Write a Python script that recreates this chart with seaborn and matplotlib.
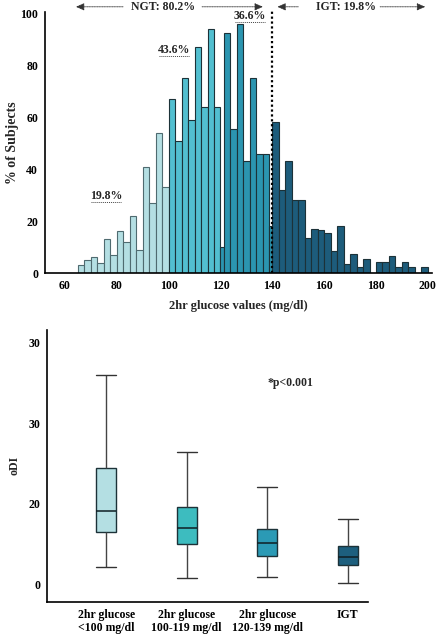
import numpy as np
import pandas as pd
import matplotlib
matplotlib.use("Agg")
import matplotlib.pyplot as plt
import seaborn as sns

# ---------------- data: histogram (% of subjects per 2hr glucose bin) -------------
g1_edges = [65, 67.5, 70, 72.5, 75, 77.5, 80, 82.5, 85, 87.5, 90, 92.5, 95, 97.5, 100]
g1_heights = [3, 5, 6, 4, 13, 7, 16, 12, 22, 9, 41, 27, 54, 33]

g2_edges = [100, 102.5, 105, 107.5, 110, 112.5, 115, 117.5, 120]
g2_heights = [67, 51, 75, 59, 87, 64, 94, 64]

g3_edges = [120, 121.25, 123.75, 126.25, 128.75, 131.25, 133.75, 136.25, 138.75, 140]
g3_heights = [10, 92.5, 55.5, 96, 43, 75, 46, 46, 18]

igt_edges = [140, 142.5, 145, 147.5, 150, 152.5, 155, 157.5, 160, 162.5, 165, 167.5,
             170, 172.5, 175, 177.5, 180, 182.5, 185, 187.5, 190, 192.5, 195, 197.5, 200]
igt_heights = [58, 32, 43, 28, 28, 13.5, 17, 16.5, 15.5, 8.4, 18, 3.4,
               7.3, 2.4, 5.3, 0, 4.3, 4.3, 6.5, 2.4, 4.3, 2.4, 0, 2.4]

hist_colors = ["#b4dfe3", "#52bfd0", "#2b95b0", "#1d5c7b"]

x_ticks = [60, 80, 100, 120, 140, 160, 180, 200]
y_ticks = [0, 20, 40, 60, 80, 100]

# ---------------- data: box plot (oDI) -------------
box_groups = ["2hr glucose\n<100 mg/dl", "2hr glucose\n100-119 mg/dl",
              "2hr glucose\n120-139 mg/dl", "IGT"]
box_min = [2.2, 0.75, 0.95, 0.2]
box_q1 = [6.5, 5.0, 3.5, 2.4]
box_med = [9.1, 7.0, 5.1, 3.4]
box_q3 = [14.4, 9.6, 6.9, 4.7]
box_max = [26.0, 16.4, 12.05, 8.1]
box_colors = ["#b4dfe3", "#3dbcbf", "#2b9ab5", "#1d5f7e"]
box_ytick_pos = [0, 10, 20, 30]
box_ytick_labels = ["0", "20", "30", "30"]

# ---------------- style -------------
sns.set_style("white")
plt.rcParams["font.family"] = ["Liberation Serif", "DejaVu Serif"]
plt.rcParams["font.weight"] = "bold"

fig = plt.figure(figsize=(4.39, 6.34), dpi=100)
ax1 = fig.add_axes([45 / 439, 1 - 273 / 634, 387 / 439, 261 / 634])
ax2 = fig.add_axes([47 / 439, 1 - 601.7 / 634, 321 / 439, 271.7 / 634])

edge_col = "#1c3238"
groups = [(g1_edges, g1_heights, "#4f6b70"), (g2_edges, g2_heights, edge_col),
          (g3_edges, g3_heights, edge_col), (igt_edges, igt_heights, edge_col)]
for (edges, heights, ec), col in zip(groups, hist_colors):
    e = [float(v) for v in edges]
    centers = [(a + b) / 2 for a, b in zip(e[:-1], e[1:])]
    hdf = pd.DataFrame({"glucose": centers, "pct": [float(h) for h in heights]})
    sns.histplot(data=hdf, x="glucose", weights="pct", bins=e, ax=ax1, color=col,
                 edgecolor=ec, linewidth=0.8, alpha=1, stat="count")

ax1.set_xlim(52.3, 201.6)
ax1.set_ylim(0, 100.5)
ax1.set_xticks(x_ticks)
ax1.set_yticks(y_ticks)
for s in ["top", "right"]:
    ax1.spines[s].set_visible(False)
for s in ["left", "bottom"]:
    ax1.spines[s].set_color("black")
    ax1.spines[s].set_linewidth(1.2)
ax1.tick_params(axis="both", direction="out", length=3, width=1, labelsize=8.5, pad=2,
                colors="black")
for lab in ax1.get_xticklabels() + ax1.get_yticklabels():
    lab.set_fontweight("bold")
ax1.set_xlabel("2hr glucose values (mg/dl)", fontsize=9, fontweight="bold", labelpad=6)
ax1.set_ylabel("% of Subjects", fontsize=10, fontweight="bold")
ax1.yaxis.set_label_coords(-0.068, 0.5)

# dotted threshold line
ax1.plot([140, 140], [0, 101], ls=(0, (1, 1.2)), color="black", lw=1.6, clip_on=False)

# group annotations above the plot
ytop = 102.5
ax1.text(97.8, ytop, "NGT: 80.2%", ha="center", va="center", fontsize=8.5,
         fontweight="bold", clip_on=False)
ax1.text(168.5, ytop, "IGT: 19.8%", ha="center", va="center", fontsize=8.5,
         fontweight="bold", clip_on=False)
arrow_kw = dict(arrowstyle="-|>,head_length=0.5,head_width=0.22", color="#333333",
                lw=0.6, ls=(0, (1, 1)), shrinkA=0, shrinkB=0)
for tail, head in [(82.4, 64.2), (112.9, 136.4), (150.0, 141.9), (181.6, 199.0)]:
    ax1.annotate("", xy=(head, ytop), xytext=(tail, ytop), arrowprops=arrow_kw,
                 annotation_clip=False)

# percentage labels with dotted underline
for xc, yt, txt, half in [(75.8, 29.8, "19.8%", 5.9), (102.0, 86.0, "43.6%", 5.9),
                          (131.4, 99.0, "36.6%", 5.9)]:
    ax1.text(xc, yt, txt, ha="center", va="center", fontsize=8.5, fontweight="bold",
             clip_on=False)
    ax1.plot([xc - half, xc + half], [yt - 2.4, yt - 2.4], ls=(0, (1, 1)),
             color="#444444", lw=0.7, clip_on=False)

# ---------------- box plot -------------
rows = []
for g, a, b, c, d, e in zip(box_groups, box_min, box_q1, box_med, box_q3, box_max):
    for v in (a, b, c, d, e):
        rows.append({"group": g, "oDI": v})
df = pd.DataFrame(rows)

sns.boxplot(data=df, x="group", y="oDI", hue="group", order=box_groups,
            hue_order=box_groups, palette=box_colors, saturation=1, width=0.25,
            whis=(0, 100), showfliers=False, linewidth=1.0, linecolor="#1c3238",
            legend=False, ax=ax2,
            whiskerprops=dict(color="#444444"), capprops=dict(color="#333333"),
            medianprops=dict(color="#0f1f24", linewidth=1.1))

# make caps as wide as the boxes
for line in ax2.lines:
    xd = np.asarray(line.get_xdata(), dtype=float)
    yd = np.asarray(line.get_ydata(), dtype=float)
    if len(xd) == 2 and yd[0] == yd[1] and xd[0] != xd[1]:
        c = xd.mean()
        if abs(xd[1] - xd[0]) < 0.24:
            line.set_xdata([c - 0.125, c + 0.125])

ax2.set_xlim(-0.733, 3.25)
ax2.set_ylim(-2.16, 31.6)
ax2.set_yticks(box_ytick_pos)
ax2.set_yticklabels(box_ytick_labels)
for s in ["top", "right"]:
    ax2.spines[s].set_visible(False)
for s in ["left", "bottom"]:
    ax2.spines[s].set_color("black")
    ax2.spines[s].set_linewidth(1.2)
ax2.tick_params(axis="both", direction="out", length=3, width=1, labelsize=8.5, pad=2,
                colors="black")
for lab in ax2.get_xticklabels() + ax2.get_yticklabels():
    lab.set_fontweight("bold")
ax2.set_xlabel("")
ax2.set_ylabel("oDI", fontsize=8.5, fontweight="bold")
ax2.yaxis.set_label_coords(-0.082, 0.5)
ax2.text(2.29, 25.0, "*p<0.001", ha="center", va="center", fontsize=8.5,
         fontweight="bold")

fig.savefig("out.png", dpi=100)
